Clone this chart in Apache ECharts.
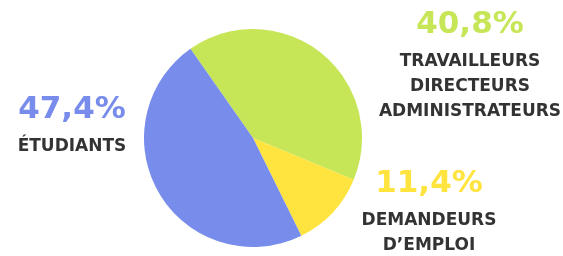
<!DOCTYPE html>
<html>
<head>
<meta charset="utf-8">
<script src="https://cdn.jsdelivr.net/npm/echarts@6/dist/echarts.min.js"></script>
<style>
  html, body { margin: 0; padding: 0; background: #fff; }
  #main { width: 563px; height: 256px; }
</style>
</head>
<body>
<div id="main"></div>
<script>
  // slices, in drawing order (clockwise from the top-left)
  const names = ['TRAVAILLEURS\nDIRECTEURS\nADMINISTRATEURS', 'DEMANDEURS\nD\u2019EMPLOI', 'ÉTUDIANTS'];
  const values = [40.8, 11.4, 47.4];
  const colors = ['#c7e657', '#ffe43f', '#788ceb'];

  // where each label block sits (centre x, top y)
  const labelPos = [[470, 1], [429, 160], [72, 86]];

  let chart = echarts.init(document.getElementById('main'));

  let option = {
    animation: false,
    series: [{
      type: 'pie',
      center: [253, 138],
      radius: [0, 109],
      startAngle: 125,
      clockwise: true,
      data: values.map((v, i) => ({
        name: names[i],
        value: v,
        itemStyle: { color: colors[i] },
        label: { rich: { p: { color: colors[i] } } }
      })),
      label: {
        show: true,
        overflow: 'none',
        width: 200,
        formatter: p => '{p|' + p.value.toFixed(1).replace('.', ',') + '%}\n{n|' + p.name + '}',
        rich: {
          p: {
            fontFamily: 'DejaVu Sans',
            fontWeight: 'bold',
            fontSize: 31,
            lineHeight: 48,
            align: 'center'
          },
          n: {
            fontFamily: 'DejaVu Sans',
            fontWeight: 'bold',
            fontSize: 17,
            lineHeight: 25,
            color: '#333',
            align: 'center'
          }
        }
      },
      labelLine: { show: false },
      labelLayout: params => ({
        x: labelPos[params.dataIndex][0],
        y: labelPos[params.dataIndex][1],
        align: 'center',
        verticalAlign: 'top'
      })
    }]
  };
  chart.setOption(option);
</script>
</body>
</html>
